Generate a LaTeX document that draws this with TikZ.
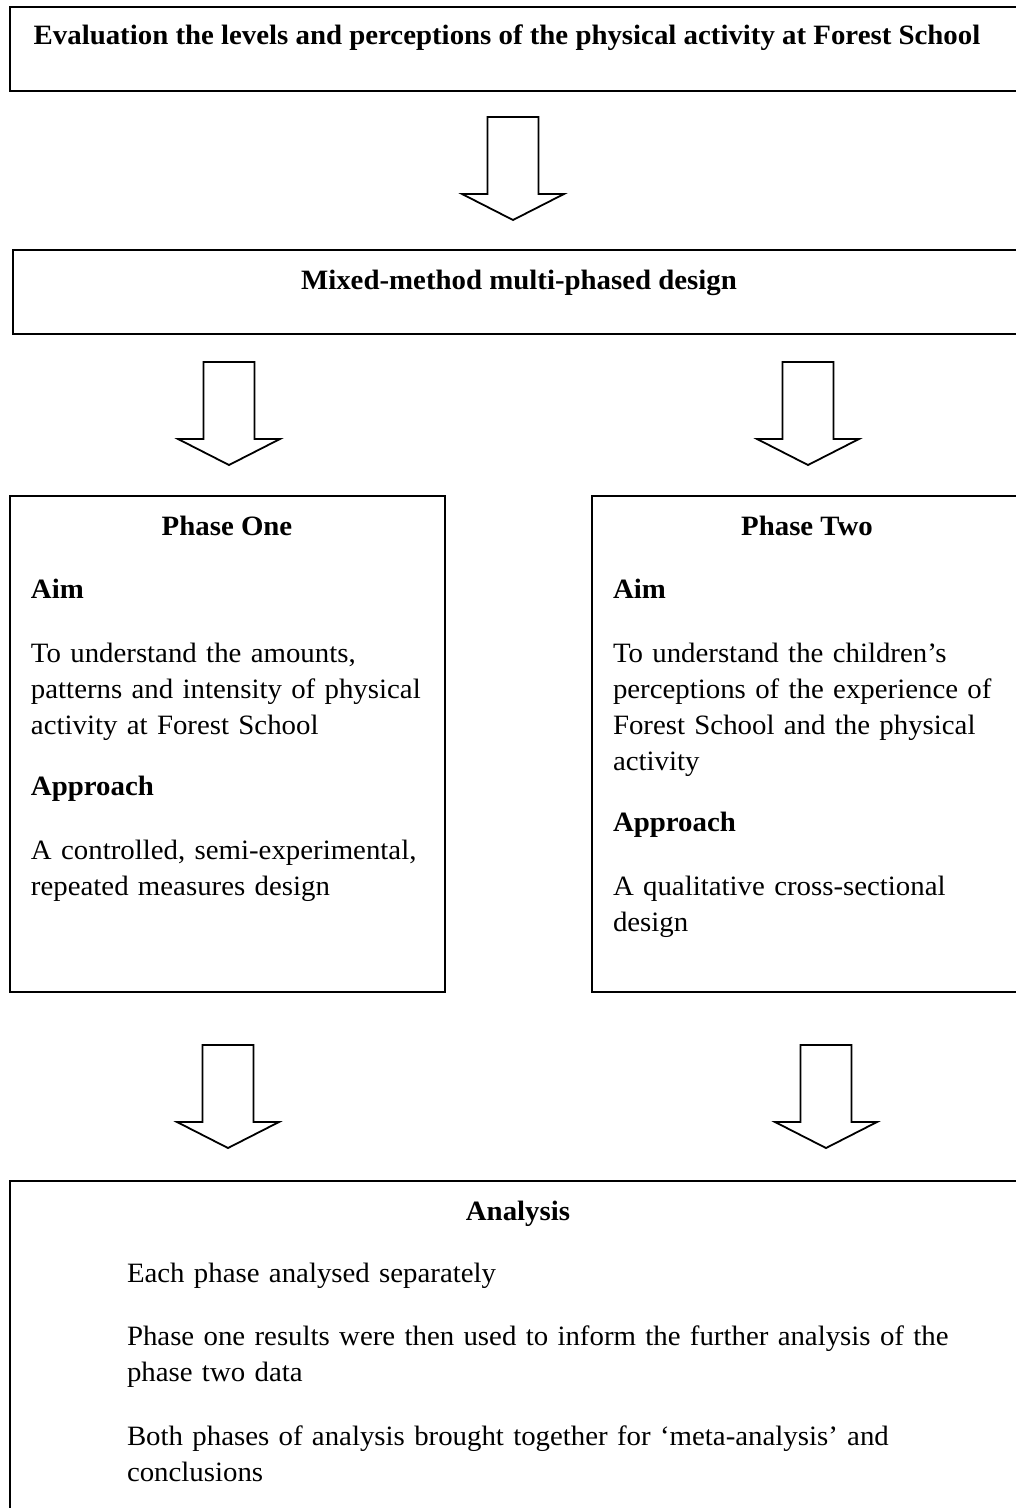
\documentclass[tikz,border=0pt]{standalone}
\usepackage{fontspec}
\setmainfont{Liberation Serif}[FakeStretch=1.03]
\begin{document}
\begin{tikzpicture}[x=0.5pt,y=-0.5pt,
    every node/.style={inner sep=0pt,outer sep=0pt},
    frame/.style={draw,line width=1pt,anchor=north west},
    boxtitle/.style={font=\bfseries,anchor=base},
    boxhead/.style={font=\bfseries,anchor=base west},
    boxtext/.style={anchor=base west,align=left,text width=240pt}]
  \fontsize{14}{18}\selectfont
  % Page area, in pixels of the reference (y grows downwards)
  \clip (0,0) rectangle (1016,1508);

  % Frames (the right ones run past the page edge)
  \node[frame,minimum width=510pt,minimum height=42pt] (goal) at (10,7) {};
  \node[frame,minimum width=510pt,minimum height=42pt] (design) at (13,250) {};
  \node[frame,minimum width=217.5pt,minimum height=248pt] (phaseone) at (10,496) {};
  \node[frame,minimum width=220pt,minimum height=248pt] (phasetwo) at (592,496) {};
  \node[frame,minimum width=515pt,minimum height=170pt] (analysis) at (10,1181) {};

  % Titles
  \node[boxtitle] (goaltitle) at (507,45) {Evaluation the levels and perceptions of the physical activity at Forest School};
  \node[boxtitle] (designtitle) at (519,290) {Mixed-method multi-phased design};
  \node[boxtitle] (onetitle) at (227,535) {Phase One};
  \node[boxtitle] (twotitle) at (807,535) {Phase Two};
  \node[boxtitle] (analysistitle) at (518,1220) {Analysis};

  % Phase One
  \node[boxhead] (oneaim) at (31,598) {Aim};
  \node[boxtext] (oneaimtext) at (31,662) {To understand the amounts,\\patterns and intensity of physical\\activity at Forest School};
  \node[boxhead] (oneapp) at (31,795) {Approach};
  \node[boxtext] (oneapptext) at (31,859) {A controlled, semi-experimental,\\repeated measures design};

  % Phase Two
  \node[boxhead] (twoaim) at (613,598) {Aim};
  \node[boxtext] (twoaimtext) at (613,662) {To understand the children’s\\perceptions of the experience of\\Forest School and the physical\\activity};
  \node[boxhead] (twoapp) at (613,831) {Approach};
  \node[boxtext] (twoapptext) at (613,895) {A qualitative cross-sectional\\design};

  % Analysis
  \node[boxtext,text width=450pt] (stepa) at (127,1282) {Each phase analysed separately};
  \node[boxtext,text width=450pt] (stepb) at (127,1345) {Phase one results were then used to inform the further analysis of the\\phase two data};
  \node[boxtext,text width=450pt] (stepc) at (127,1445) {Both phases of analysis brought together for ‘meta-analysis’ and\\conclusions};

  % Block arrows: top centre of each shaft
  \foreach \ax/\ay [count=\i] in {513/117,229/362,808/362,228/1045,826/1045}{
    \coordinate (arr\i) at (\ax,\ay);
    \draw[line width=0.9pt,line join=miter] (arr\i) ++(-25.5,0) -- ++(51,0) -- ++(0,77)
      -- ++(25.5,0) -- ++(-51,26) -- ++(-51,-26) -- ++(25.5,0) -- cycle;
  }
\end{tikzpicture}
\end{document}
